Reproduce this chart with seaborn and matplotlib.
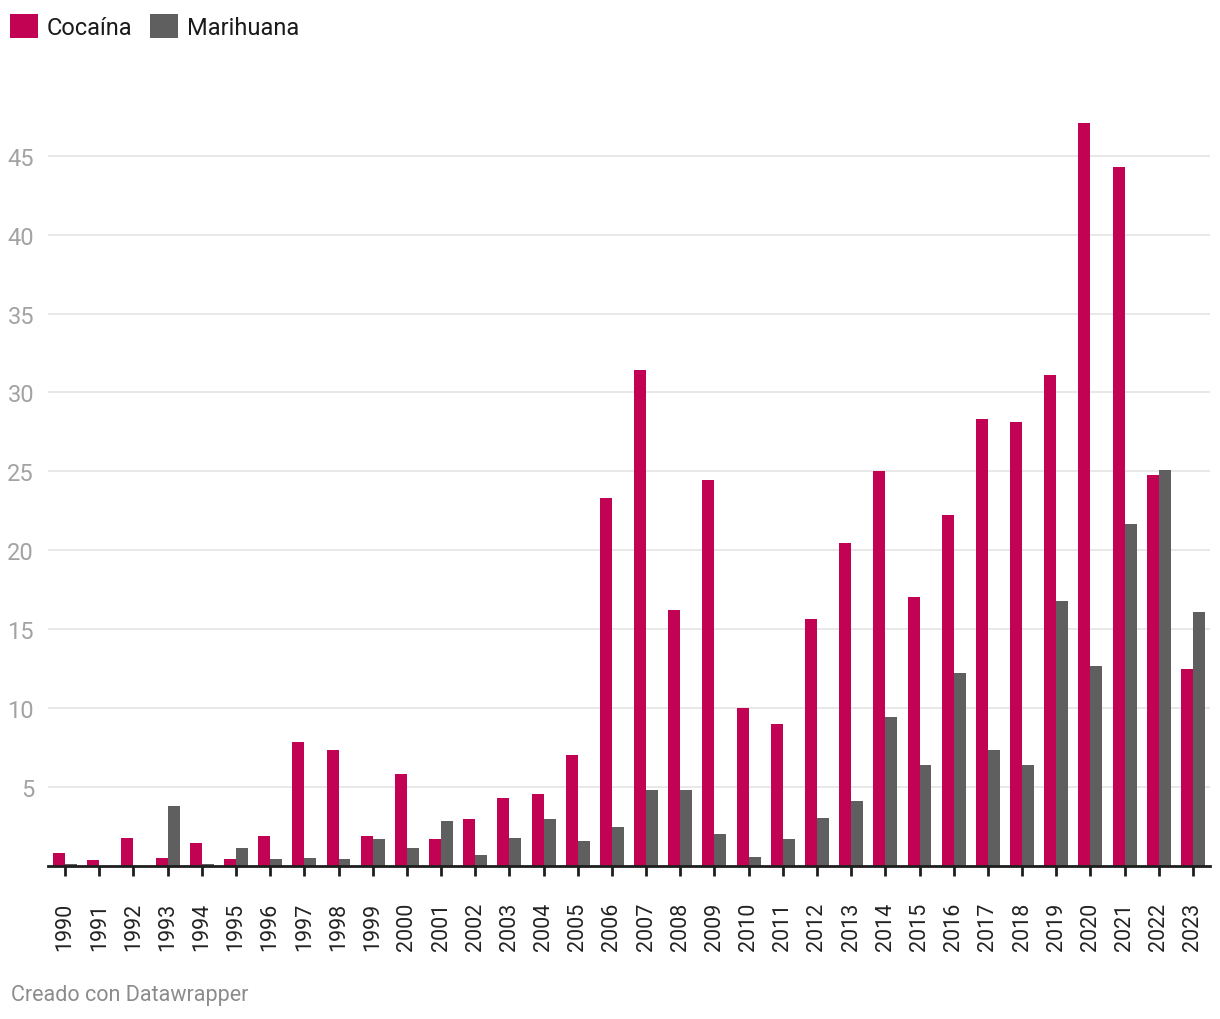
import matplotlib
matplotlib.use("Agg")
import matplotlib.pyplot as plt
import seaborn as sns
import pandas as pd
from matplotlib.patches import Patch

years = [str(y) for y in range(1990, 2024)]
cocaina = [0.8, 0.35, 1.75, 0.5, 1.4, 0.4, 1.9, 7.85, 7.3, 1.9,
           5.8, 1.7, 2.95, 4.3, 4.55, 7.0, 23.3, 31.45, 16.2, 24.45,
           10.0, 8.95, 15.6, 20.45, 25.0, 17.0, 22.2, 28.3, 28.15, 31.1,
           47.1, 44.3, 24.75, 12.45]
marihuana = [0.1, 0.0, 0.0, 3.8, 0.1, 1.1, 0.4, 0.45, 0.4, 1.7,
             1.1, 2.8, 0.65, 1.75, 2.95, 1.55, 2.45, 4.8, 4.8, 2.0,
             0.55, 1.65, 3.0, 4.1, 9.4, 6.4, 12.2, 7.35, 6.35, 16.8,
             12.65, 21.65, 25.05, 16.1]
series_names = ["Cocaína", "Marihuana"]
colors = ["#c20353", "#5f5f5f"]
y_ticks = [5, 10, 15, 20, 25, 30, 35, 40, 45]

df = pd.DataFrame({
    "year": years * 2,
    "value": cocaina + marihuana,
    "droga": [series_names[0]] * len(years) + [series_names[1]] * len(years),
})

sns.set_theme(style="white")
plt.rcParams["font.family"] = ["Roboto", "DejaVu Sans"]

W, H = 1220, 1020
fig = plt.figure(figsize=(W / 100, H / 100), dpi=100)
ax = fig.add_axes([48 / W, 153.5 / H, (1210 - 48) / W, 788.5 / H])

sns.barplot(data=df, x="year", y="value", hue="droga", palette=colors,
            width=0.7, gap=0, saturation=1, linewidth=0, ax=ax, legend=False)

ax.set_xlim(-0.5, len(years) - 0.5)
ax.set_ylim(0, 50)
ax.set_yticks(y_ticks)
ax.set_yticklabels([str(t) for t in y_ticks])
ax.grid(axis="y", color="#e6e6e6", linewidth=1.3)
ax.set_axisbelow(True)
for s in ["top", "right", "left"]:
    ax.spines[s].set_visible(False)
ax.spines["bottom"].set_color("#1e1e1e")
ax.spines["bottom"].set_linewidth(2)
ax.set_xlabel("")
ax.set_ylabel("")

ax.tick_params(axis="y", length=0, pad=10, labelsize=17, labelcolor="#a3a3a3")
ax.tick_params(axis="x", length=7, width=2, color="#1e1e1e", pad=19,
               labelsize=15.5, labelcolor="#222222", rotation=90, bottom=True)

handles = [Patch(facecolor=c, edgecolor="none", label=n) for c, n in zip(colors, series_names)]
fig.legend(handles=handles, loc="upper left", bbox_to_anchor=(10 / W, 1 - 15 / H),
           ncol=2, frameon=False, fontsize=17, handlelength=1.2, handleheight=1.2,
           handletextpad=0.35, columnspacing=0.75, borderpad=0, borderaxespad=0,
           labelcolor="#1a1a1a")

fig.text(11 / W, 1 - 996 / H, "Creado con Datawrapper", fontsize=15.5,
         color="#8c8c8c", va="center", ha="left")

fig.savefig("out.png", dpi=100)
